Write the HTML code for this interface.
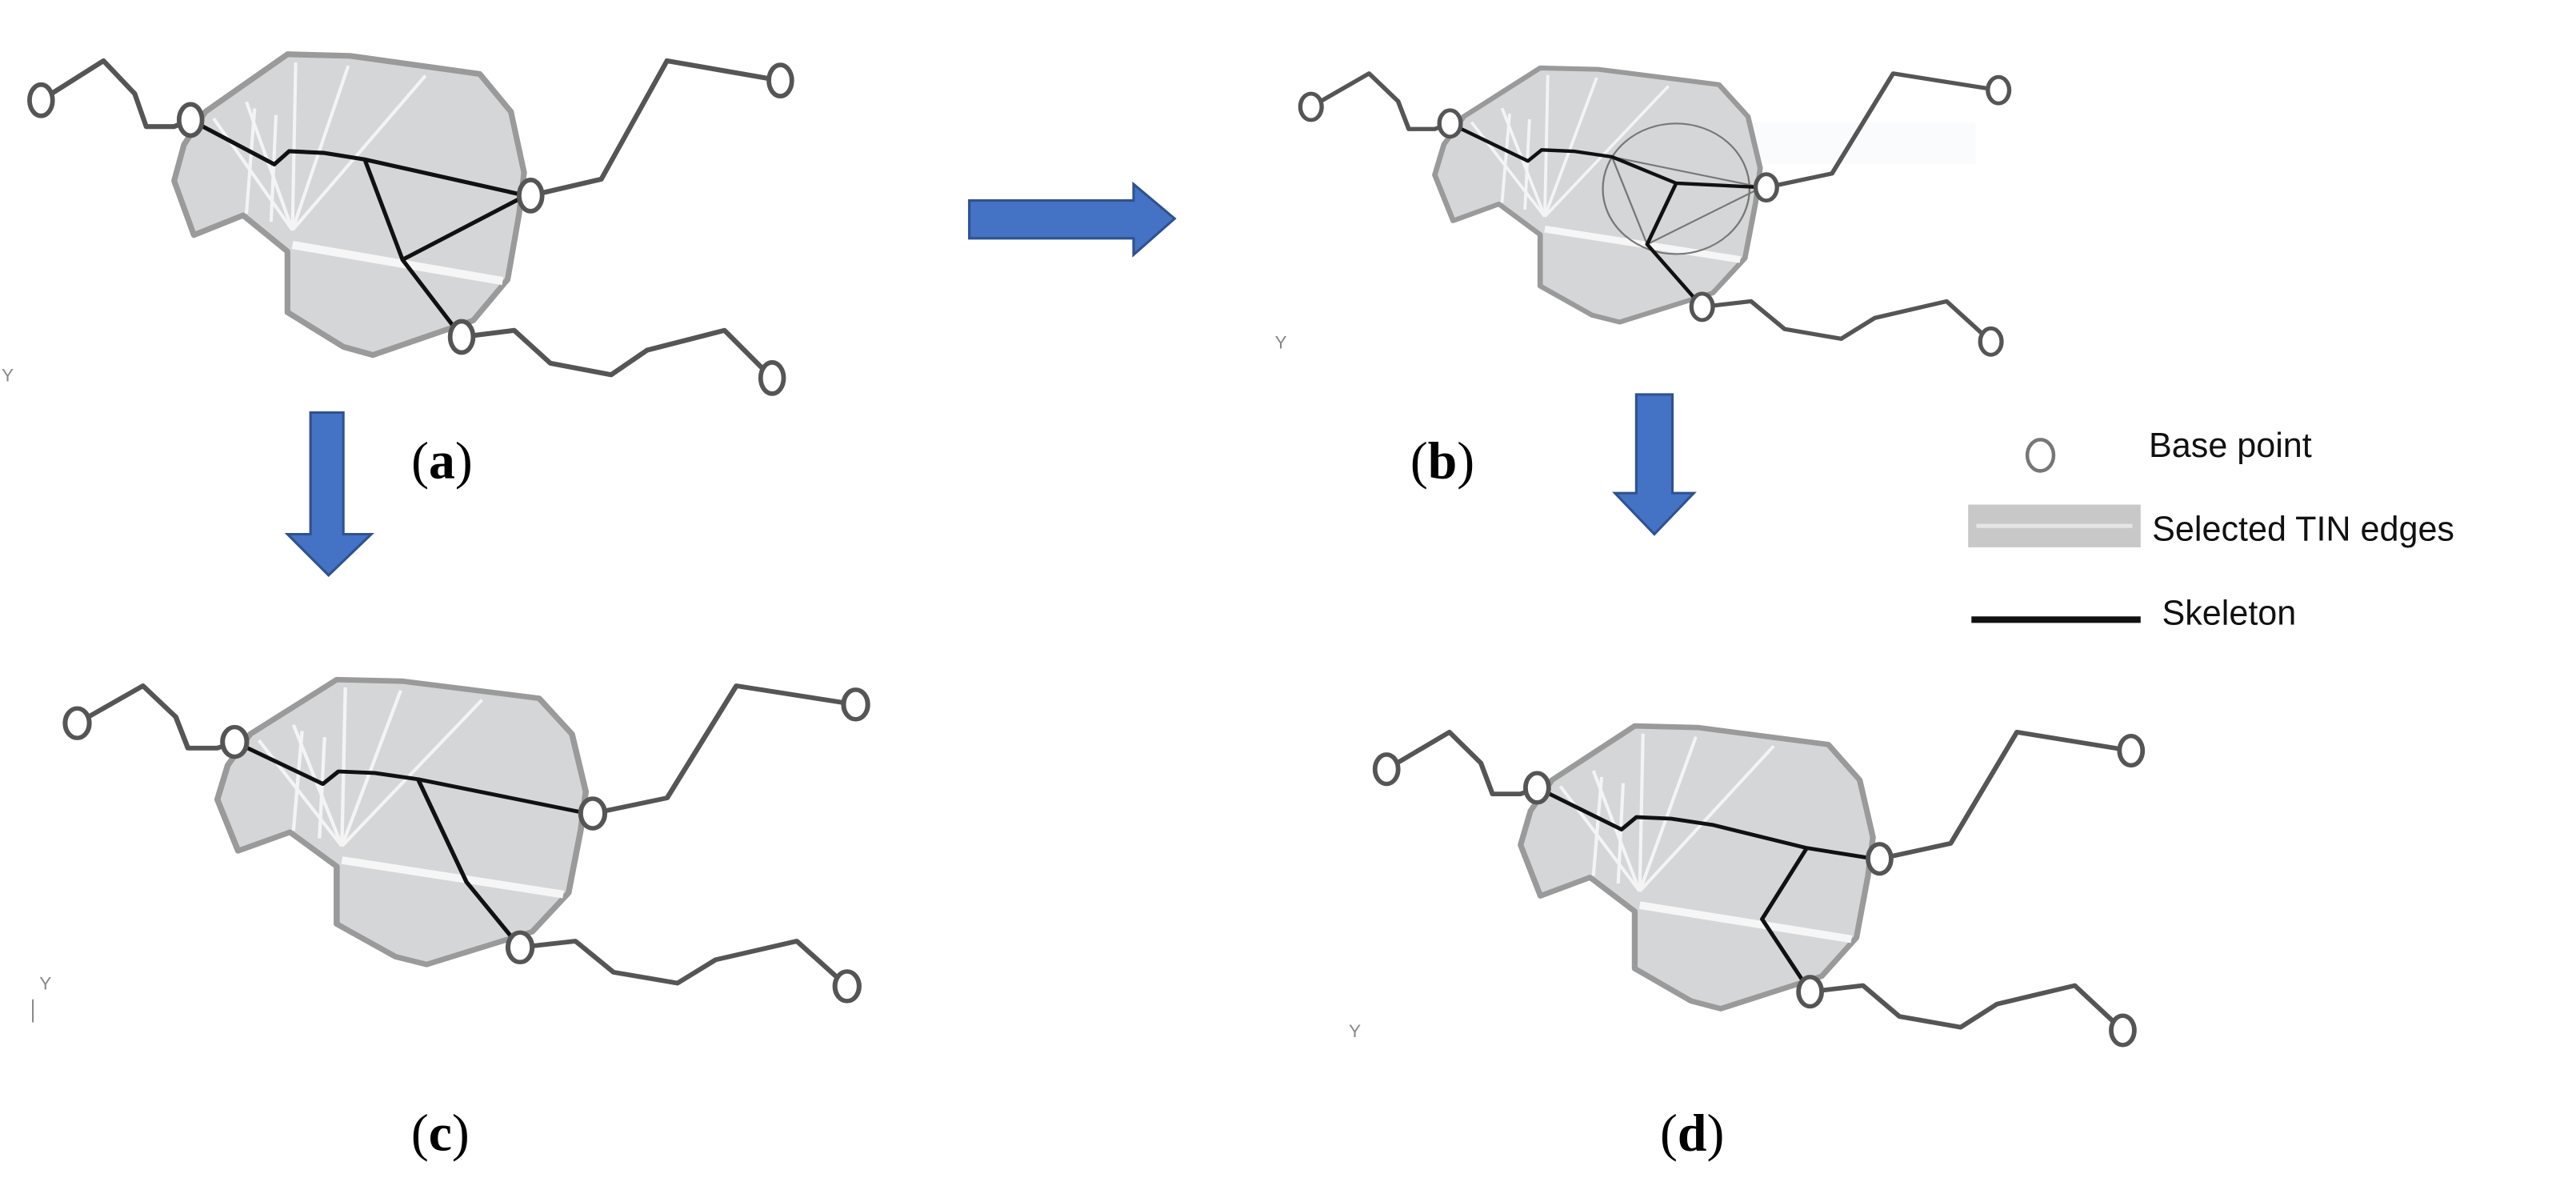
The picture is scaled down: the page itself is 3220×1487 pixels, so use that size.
<!DOCTYPE html>
<html><head><meta charset="utf-8"><style>
html,body{margin:0;padding:0;background:#fff;}
svg{display:block;}
</style></head><body>
<svg width="3220" height="1487" viewBox="0 0 1568 724" preserveAspectRatio="none" xmlns="http://www.w3.org/2000/svg">
<defs>
<g id="base">
  <polygon points="175,33 213,34 292,45 311,68 319,105 316,130 309,170 288,195 227,216 209,211 175,190 175,153 148,131 118,143 106,110 112,88 125,68" fill="#d5d6d8" stroke="#9a9a9a" stroke-width="3.5" stroke-linejoin="round"/>
  <g stroke="#f4f4f4" stroke-width="2" fill="none">
    <line x1="178" y1="140" x2="180" y2="38"/>
    <line x1="178" y1="140" x2="212" y2="40"/>
    <line x1="178" y1="140" x2="259" y2="46"/>
    <line x1="178" y1="140" x2="150" y2="62"/>
    <line x1="178" y1="140" x2="130" y2="72"/>
    <line x1="150" y1="130" x2="155" y2="66"/>
    <line x1="165" y1="135" x2="168" y2="70"/>
  </g>
  <line x1="178" y1="149" x2="306" y2="171" stroke="#f6f6f6" stroke-width="5"/>
  <g stroke="#555" stroke-width="3" fill="none" stroke-linejoin="round">
    <polyline points="25,61 63,37 82,57 89,77 106,77 116,73"/>
    <polyline points="323,119 366,109 406,37 475,49"/>
    <polyline points="281,205 313,201 335,221 372,228 394,213 441,201 470,230"/>
  </g>
</g>
<g id="nodes" fill="#fff" stroke="#555" stroke-width="2.8">
  <ellipse cx="25" cy="61" rx="7" ry="9.5"/>
  <ellipse cx="116" cy="73" rx="7" ry="9.5"/>
  <ellipse cx="323" cy="119" rx="7" ry="9.5"/>
  <ellipse cx="281" cy="205" rx="7" ry="9.5"/>
  <ellipse cx="475" cy="49" rx="7" ry="9.5"/>
  <ellipse cx="470" cy="230" rx="7" ry="9.5"/>
</g>
</defs>

<g>
  <use href="#base"/>
  <g stroke="#111" stroke-width="2.5" fill="none" stroke-linejoin="round">
    <polyline points="116,73 167,100 176,92 197,93 222,97 320,119"/>
    <polyline points="222,97 245,158 281,205"/>
    <line x1="245" y1="158" x2="320" y2="119"/>
  </g>
  <use href="#nodes"/>
</g>

<g transform="translate(798,65) scale(0.93,0.845) translate(-25,-61)">
  <rect x="300" y="72" width="160" height="30" fill="#f2f6fa" opacity="0.4"/>
  <use href="#base"/>
  <g stroke="#777" stroke-width="1.2" fill="none">
    <ellipse cx="264" cy="120" rx="48" ry="47"/>
    <line x1="222" y1="97" x2="320" y2="119"/>
    <line x1="222" y1="97" x2="245" y2="160"/>
    <line x1="245" y1="160" x2="320" y2="119"/>
  </g>
  <g stroke="#111" stroke-width="2.5" fill="none" stroke-linejoin="round">
    <polyline points="116,73 167,100 176,92 197,93 222,97 264,116 320,119"/>
    <polyline points="264,116 245,160 281,205"/>
  </g>
  <use href="#nodes"/>
</g>

<g transform="translate(47,440) scale(1.053,0.947) translate(-25,-61)">
  <use href="#base"/>
  <g stroke="#111" stroke-width="2.5" fill="none" stroke-linejoin="round">
    <polyline points="116,73 167,100 176,92 197,93 222,97 320,119"/>
    <polyline points="222,97 250,163 281,205"/>
  </g>
  <use href="#nodes"/>
</g>

<g transform="translate(844,468) scale(1.007,0.94) translate(-25,-61)">
  <use href="#base"/>
  <g stroke="#111" stroke-width="2.5" fill="none" stroke-linejoin="round">
    <polyline points="116,73 167,100 176,92 197,93 222,97 279,112 320,119"/>
    <polyline points="279,112 252,158 281,205"/>
  </g>
  <use href="#nodes"/>
</g>

<g font-family="Liberation Sans, sans-serif" font-size="11" fill="#888">
  <text x="1" y="232">Y</text>
  <text x="776" y="212">Y</text>
  <text x="24" y="602">Y</text>
  <text x="821" y="631">Y</text>
</g>
<line x1="20" y1="608" x2="20" y2="622" stroke="#888" stroke-width="1"/>

<g fill="#4472c4" stroke="#2f528f" stroke-width="1.5">
  <polygon points="590,122 690,122 690,112 715,133 690,155 690,145 590,145"/>
  <polygon points="189,251 209,251 209,325 226,325 200,350 175,325 189,325"/>
  <polygon points="996,240 1018,240 1018,300 1031,300 1007,325 983,300 996,300"/>
</g>

<g font-family="Liberation Serif, serif" font-size="32" fill="#000" text-anchor="middle">
  <text x="269" y="291">(<tspan font-weight="bold">a</tspan>)</text>
  <text x="878" y="291">(<tspan font-weight="bold">b</tspan>)</text>
  <text x="268" y="700">(<tspan font-weight="bold">c</tspan>)</text>
  <text x="1030" y="700">(<tspan font-weight="bold">d</tspan>)</text>
</g>

<ellipse cx="1242" cy="277" rx="8" ry="9.5" fill="#fff" stroke="#777" stroke-width="2.2"/>
<rect x="1198" y="307" width="105" height="26" fill="#c8c8c8"/>
<line x1="1203" y1="320" x2="1298" y2="320" stroke="#e6e6e6" stroke-width="2.5"/>
<line x1="1200" y1="377" x2="1303" y2="377" stroke="#111" stroke-width="4"/>
<g font-family="Liberation Sans, sans-serif" font-size="21" fill="#111">
  <text x="1308" y="278">Base point</text>
  <text x="1310" y="329">Selected TIN edges</text>
  <text x="1316" y="380">Skeleton</text>
</g>
</svg>
</body></html>
